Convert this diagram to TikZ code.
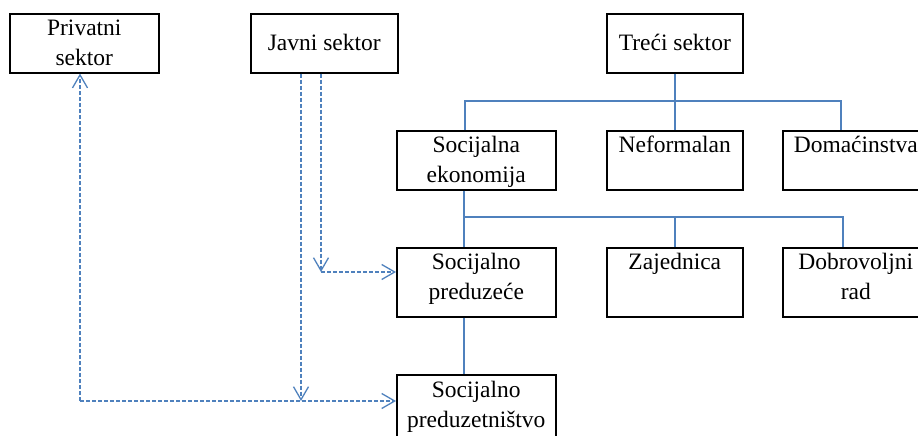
\documentclass[tikz,border=0pt]{standalone}
\usepackage{fontspec}
\setmainfont{Liberation Serif}
\usetikzlibrary{arrows.meta}
\definecolor{lineblue}{RGB}{79,129,189}
\newcommand\bxt[4]{\parbox[c][#2pt][t]{#1pt}{\centering\fontsize{23.5}{30}\selectfont\rule{0pt}{#3pt}#4}}
\tikzset{
  bx/.style={draw=black, line width=1.6pt, rectangle, inner sep=0pt, anchor=north west},
  solidln/.style={draw=lineblue, line width=1.5pt},
  dsh/.style={draw=lineblue, line width=1.3pt, dash pattern=on 4pt off 2pt,
    -{Straight Barb[length=13pt,width=15pt,line width=1.3pt]}},
}
\begin{document}
\begin{tikzpicture}[x=1pt,y=-1pt]
\useasboundingbox (0,0) rectangle (918,436);
% boxes
\node[bx] (priv)  at (9,13)   {\bxt{149}{59}{22}{Privatni\\sektor}};
\node[bx] (javni) at (250,13) {\bxt{147}{59}{37}{Javni sektor}};
\node[bx] (treci) at (606,13) {\bxt{136}{59}{37}{Treći sektor}};
\node[bx] (sekon) at (396,130) {\bxt{159}{59}{22}{Socijalna\\ekonomija}};
\node[bx] (nef)   at (606,130) {\bxt{136}{59}{22}{Neformalan}};
\node[bx] (dom)   at (782,130) {\bxt{146}{59}{22}{Domaćinstva}};
\node[bx] (spred) at (396,247) {\bxt{159}{69}{22}{Socijalno\\preduzeće}};
\node[bx] (zaj)   at (606,247) {\bxt{136}{69}{22}{Zajednica}};
\node[bx] (dobr)  at (782,247) {\bxt{146}{69}{22}{Dobrovoljni\\rad}};
\node[bx] (spr2)  at (396,374) {\bxt{159}{72}{23}{Socijalno\\preduzetništvo}};
% junction coordinates
\coordinate (j1) at (465,101);
\coordinate (j2) at (841,101);
\coordinate (k1) at (464,217);
\coordinate (k2) at (843,217);
\coordinate (c1) at (301,401);
\coordinate (c2) at (321,272);
\coordinate (c3) at (80,401);
% solid tree connectors
\draw[solidln] (treci.south) -- (nef.north);
\draw[solidln] (j1 |- sekon.north) -- (j1) -- (j2) -- (j2 |- dom.north);
\draw[solidln] (k1 |- sekon.south) -- (k1 |- spred.north);
\draw[solidln] (k1) -- (k2) -- (k2 |- dobr.north);
\draw[solidln] (zaj.north) -- (zaj.north |- k1);
\draw[solidln] (k1 |- spred.south) -- (k1 |- spr2.north);
% dashed connectors
\draw[dsh] (c1 |- javni.south) -- (c1);
\draw[dsh] (c2 |- javni.south) -- (c2);
\draw[dsh] (c2) -- (c2 -| spred.west);
\draw[dsh] (c3) -- (c3 |- priv.south);
\draw[dsh] (c3) -- (c3 -| spr2.west);
\end{tikzpicture}
\end{document}
